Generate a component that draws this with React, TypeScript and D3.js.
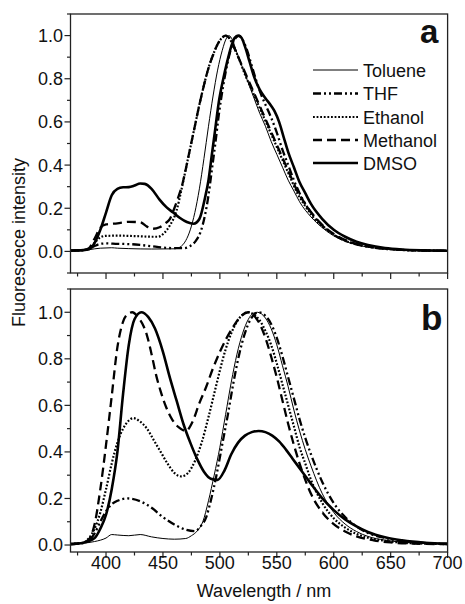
import React from "react";
import * as d3 from "d3";

// ---------- data (wavelength nm, normalized intensity) ----------
const seriesNames = ["Toluene", "THF", "Ethanol", "Methanol", "DMSO"];

// panel a
const tolueneA: [number, number][] = [
  [368.8, 0.004], [380, 0.006], [385, 0.008], [390, 0.012], [395, 0.015], [400, 0.016], [405, 0.017], [410, 0.015],
  [420, 0.013], [440, 0.011], [460, 0.012], [465, 0.02], [470, 0.05], [474, 0.1], [478, 0.18], [482, 0.29],
  [486, 0.43], [490, 0.58], [494, 0.72], [498, 0.84], [502, 0.93], [506, 0.99], [508, 1.0], [511, 0.98],
  [515, 0.92], [520, 0.85], [525, 0.78], [530, 0.71], [535, 0.64], [540, 0.58], [545, 0.51], [550, 0.45],
  [555, 0.39], [560, 0.33], [565, 0.28], [570, 0.23], [580, 0.16], [590, 0.11], [600, 0.072], [610, 0.047],
  [620, 0.031], [630, 0.02], [645, 0.011], [660, 0.006], [680, 0.004], [700, 0.003],
];
const thfA: [number, number][] = [
  [368.8, 0.004], [380, 0.006], [385, 0.012], [390, 0.025], [395, 0.035], [400, 0.037], [410, 0.035], [420, 0.034],
  [430, 0.03], [440, 0.024], [450, 0.018], [460, 0.015], [468, 0.015], [474, 0.025], [479, 0.05], [483, 0.09],
  [487, 0.17], [490, 0.26], [493, 0.38], [496, 0.5], [499, 0.63], [503, 0.77], [507, 0.88], [511, 0.96],
  [514, 0.99], [517, 1.0], [520, 0.98], [524, 0.93], [528, 0.86], [532, 0.79], [536, 0.73], [540, 0.68],
  [545, 0.62], [550, 0.55], [555, 0.47], [560, 0.4], [565, 0.33], [570, 0.27], [575, 0.22], [580, 0.18],
  [590, 0.12], [600, 0.078], [610, 0.05], [620, 0.033], [630, 0.022], [645, 0.012], [660, 0.007], [680, 0.004], [700, 0.003],
];
const ethanolA: [number, number][] = [
  [368.8, 0.004], [380, 0.006], [385, 0.012], [390, 0.04], [395, 0.065], [400, 0.072], [410, 0.073], [420, 0.072],
  [430, 0.07], [440, 0.068], [446, 0.068], [451, 0.085], [456, 0.12], [462, 0.19], [466, 0.28], [470, 0.38],
  [474, 0.48], [478, 0.58], [482, 0.68], [486, 0.77], [490, 0.85], [494, 0.91], [498, 0.96], [502, 0.99],
  [505, 1.0], [508, 0.99], [512, 0.95], [517, 0.89], [522, 0.82], [527, 0.76], [532, 0.7], [537, 0.64],
  [542, 0.58], [547, 0.52], [552, 0.46], [557, 0.4], [562, 0.34], [568, 0.27], [575, 0.21], [585, 0.14],
  [595, 0.095], [605, 0.062], [615, 0.04], [625, 0.027], [640, 0.015], [655, 0.008], [680, 0.004], [700, 0.003],
];
const methanolA: [number, number][] = [
  [368.8, 0.004], [380, 0.006], [385, 0.015], [390, 0.06], [395, 0.11], [400, 0.125], [410, 0.13], [420, 0.137],
  [430, 0.135], [436, 0.115], [441, 0.105], [447, 0.112], [452, 0.13], [456, 0.15], [460, 0.2], [464, 0.26],
  [467, 0.31], [470, 0.38], [474, 0.48], [478, 0.58], [482, 0.68], [486, 0.77], [490, 0.85], [494, 0.91],
  [498, 0.96], [502, 0.99], [505, 1.0], [508, 0.99], [512, 0.95], [517, 0.89], [522, 0.83], [527, 0.77],
  [532, 0.71], [537, 0.65], [542, 0.59], [547, 0.53], [552, 0.47], [557, 0.41], [562, 0.35], [568, 0.28],
  [575, 0.22], [585, 0.15], [595, 0.1], [605, 0.066], [615, 0.043], [625, 0.029], [640, 0.016], [655, 0.009],
  [680, 0.004], [700, 0.003],
];
const dmsoA: [number, number][] = [
  [368.8, 0.004], [380, 0.006], [385, 0.01], [390, 0.04], [395, 0.1], [400, 0.18], [405, 0.26], [410, 0.29],
  [415, 0.297], [420, 0.298], [425, 0.305], [430, 0.315], [434, 0.313], [440, 0.29], [447, 0.24], [453, 0.205],
  [459, 0.18], [465, 0.155], [471, 0.136], [477, 0.128], [482, 0.15], [487, 0.25], [490, 0.33], [493, 0.45],
  [496, 0.57], [499, 0.69], [503, 0.8], [506, 0.87], [510, 0.95], [513, 0.99], [516, 1.0], [519, 0.99],
  [522, 0.95], [526, 0.88], [530, 0.81], [535, 0.75], [540, 0.71], [545, 0.675], [548, 0.65], [552, 0.6],
  [556, 0.53], [560, 0.46], [565, 0.39], [570, 0.32], [575, 0.27], [580, 0.22], [590, 0.15], [600, 0.1],
  [610, 0.068], [620, 0.045], [630, 0.03], [645, 0.016], [660, 0.009], [680, 0.005], [700, 0.003],
];

// panel b
const tolueneB: [number, number][] = [
  [368.8, 0.005], [380, 0.008], [390, 0.015], [400, 0.03], [405, 0.045], [410, 0.043], [420, 0.04], [430, 0.045],
  [440, 0.035], [450, 0.028], [460, 0.025], [470, 0.028], [475, 0.04], [480, 0.06], [485, 0.1], [490, 0.19],
  [495, 0.3], [500, 0.42], [505, 0.56], [510, 0.7], [515, 0.82], [520, 0.91], [525, 0.97], [529, 0.995],
  [533, 1.0], [540, 0.975], [545, 0.93], [550, 0.86], [555, 0.77], [560, 0.68], [565, 0.58], [570, 0.49],
  [575, 0.41], [580, 0.34], [590, 0.22], [600, 0.14], [610, 0.09], [620, 0.058], [630, 0.037], [645, 0.021],
  [660, 0.012], [680, 0.006], [700, 0.004],
];
const thfB: [number, number][] = [
  [368.8, 0.004], [380, 0.008], [385, 0.02], [390, 0.05], [395, 0.1], [400, 0.145], [405, 0.175], [410, 0.19],
  [419, 0.2], [430, 0.188], [440, 0.16], [450, 0.12], [460, 0.088], [470, 0.066], [478, 0.06], [483, 0.08],
  [488, 0.12], [492, 0.19], [497, 0.3], [502, 0.43], [507, 0.56], [512, 0.7], [517, 0.82], [522, 0.91],
  [527, 0.97], [534, 1.0], [540, 0.985], [545, 0.95], [550, 0.89], [555, 0.81], [560, 0.72], [565, 0.63],
  [570, 0.54], [575, 0.46], [580, 0.39], [590, 0.27], [600, 0.18], [610, 0.12], [620, 0.08], [630, 0.052],
  [645, 0.03], [660, 0.017], [680, 0.009], [700, 0.005],
];
const ethanolB: [number, number][] = [
  [368.8, 0.005], [380, 0.01], [385, 0.03], [390, 0.07], [395, 0.14], [400, 0.24], [405, 0.35], [410, 0.44],
  [415, 0.5], [420, 0.535], [424, 0.545], [430, 0.53], [436, 0.5], [442, 0.45], [448, 0.4], [454, 0.35],
  [460, 0.31], [466, 0.295], [472, 0.31], [478, 0.36], [484, 0.44], [490, 0.55], [495, 0.65], [500, 0.75],
  [505, 0.84], [510, 0.91], [515, 0.96], [520, 0.99], [525, 1.0], [530, 0.99], [535, 0.965], [540, 0.92],
  [545, 0.86], [550, 0.78], [555, 0.69], [560, 0.6], [565, 0.51], [570, 0.42], [575, 0.35], [580, 0.28],
  [590, 0.18], [600, 0.115], [610, 0.075], [620, 0.048], [630, 0.031], [645, 0.018], [660, 0.01], [680, 0.006], [700, 0.004],
];
const methanolB: [number, number][] = [
  [368.8, 0.004], [380, 0.01], [385, 0.025], [390, 0.09], [395, 0.24], [400, 0.43], [405, 0.64], [410, 0.85],
  [415, 0.96], [420, 0.995], [423, 1.0], [428, 0.98], [433, 0.94], [436, 0.9], [440, 0.82], [444, 0.73],
  [448, 0.66], [453, 0.59], [458, 0.54], [464, 0.505], [470, 0.49], [476, 0.53], [482, 0.61], [488, 0.68],
  [494, 0.76], [500, 0.83], [506, 0.89], [512, 0.94], [518, 0.98], [525, 1.0], [530, 0.985], [535, 0.95],
  [540, 0.89], [545, 0.81], [550, 0.72], [555, 0.62], [560, 0.52], [565, 0.43], [570, 0.35], [575, 0.28],
  [580, 0.22], [590, 0.14], [600, 0.09], [610, 0.058], [620, 0.037], [635, 0.02], [650, 0.011], [670, 0.006], [700, 0.004],
];
const dmsoB: [number, number][] = [
  [368.8, 0.004], [380, 0.01], [390, 0.03], [395, 0.07], [400, 0.13], [405, 0.24], [410, 0.4], [415, 0.65],
  [420, 0.86], [425, 0.97], [431, 1.0], [437, 0.98], [443, 0.93], [450, 0.83], [456, 0.72], [462, 0.62],
  [468, 0.52], [474, 0.44], [480, 0.37], [486, 0.315], [492, 0.285], [498, 0.28], [504, 0.32], [510, 0.39],
  [516, 0.44], [522, 0.47], [528, 0.485], [534, 0.49], [540, 0.485], [546, 0.47], [552, 0.445], [558, 0.41],
  [564, 0.37], [570, 0.33], [576, 0.29], [582, 0.25], [590, 0.2], [600, 0.15], [610, 0.11], [620, 0.08],
  [630, 0.056], [645, 0.033], [660, 0.02], [680, 0.01], [700, 0.006],
];

const xTicksMajor = [400, 450, 500, 550, 600, 650, 700];
const xTicksMinor = [375, 425, 475, 525, 575, 625, 675];
const yTicksMajor = [0.0, 0.2, 0.4, 0.6, 0.8, 1.0];
const yTicksMinor = [-0.1, 0.1, 0.3, 0.5, 0.7, 0.9, 1.1];

// ---------- styles ----------
const styles: Record<string, { w: number; dash: string | null }> = {
  Toluene: { w: 1.0, dash: null },
  THF: { w: 2.3, dash: "8,3,2,3,2,3" },
  Ethanol: { w: 2.2, dash: "1.8,1.8" },
  Methanol: { w: 2.3, dash: "9,5" },
  DMSO: { w: 2.6, dash: null },
};

const W = 465;
const H = 604;
const X0 = 70.5;
const X1 = 447.6;
const FONT = "Arial, 'Liberation Sans', Helvetica, sans-serif";

const x = d3.scaleLinear().domain([368.8, 700]).range([X0, X1]);
const yA = d3.scaleLinear().domain([-0.1, 1.1]).range([273, 14]);
const yB = d3.scaleLinear().domain([-0.03, 1.1]).range([552, 289]);

const panelA = [tolueneA, thfA, ethanolA, methanolA, dmsoA];
const panelB = [tolueneB, thfB, ethanolB, methanolB, dmsoB];

function Panel({ y, data, id, showXLabels, top, bottom, yMinor }: any) {
  const line = d3
    .line<[number, number]>()
    .x((d) => x(d[0]))
    .y((d) => y(d[1]))
    .curve(d3.curveMonotoneX);
  return (
    <g>
      <defs>
        <clipPath id={id}>
          <rect x={X0} y={top} width={X1 - X0} height={bottom - top} />
        </clipPath>
      </defs>
      <g clipPath={`url(#${id})`}>
        {data.map((s: [number, number][], i: number) => {
          const st = styles[seriesNames[i]];
          return (
            <path
              key={i}
              d={line(s) || ""}
              fill="none"
              stroke="#000"
              strokeWidth={st.w}
              strokeDasharray={st.dash || undefined}
              strokeLinejoin="round"
            />
          );
        })}
      </g>
      <rect x={X0} y={top} width={X1 - X0} height={bottom - top} fill="none" stroke="#222" strokeWidth={1.3} />
      {xTicksMajor.map((t) => (
        <line key={"xM" + t} x1={x(t)} x2={x(t)} y1={bottom} y2={bottom + 6} stroke="#222" strokeWidth={1.2} />
      ))}
      {xTicksMinor.map((t) => (
        <line key={"xm" + t} x1={x(t)} x2={x(t)} y1={bottom} y2={bottom + 3.5} stroke="#222" strokeWidth={1.2} />
      ))}
      {yTicksMajor.map((t) => (
        <line key={"yM" + t} x1={X0 - 6} x2={X0} y1={y(t)} y2={y(t)} stroke="#222" strokeWidth={1.2} />
      ))}
      {yMinor.map((t: number) => (
        <line key={"ym" + t} x1={X0 - 3.5} x2={X0} y1={y(t)} y2={y(t)} stroke="#222" strokeWidth={1.2} />
      ))}
      {yTicksMajor.map((t) => (
        <text key={"yl" + t} x={63} y={y(t)} dy="0.36em" textAnchor="end" fontSize={18} fontFamily={FONT} fill="#111">
          {t.toFixed(1)}
        </text>
      ))}
      {showXLabels &&
        xTicksMajor.map((t) => (
          <text key={"xl" + t} x={x(t)} y={bottom + 17} textAnchor="middle" fontSize={18} fontFamily={FONT} fill="#111">
            {t}
          </text>
        ))}
    </g>
  );
}

export default function App() {
  const legendY = [70, 93.5, 117, 140, 163];
  return (
    <svg width={W} height={H} style={{ position: "absolute", left: 0, top: 0, background: "#fff" }}>
      <rect x={0} y={0} width={W} height={H} fill="#fff" />
      <Panel y={yA} data={panelA} id="clipA" showXLabels={false} top={14} bottom={273} yMinor={yTicksMinor} />
      <Panel y={yB} data={panelB} id="clipB" showXLabels={true} top={289} bottom={552} yMinor={yTicksMinor.filter((t) => t > 0)} />
      {seriesNames.map((n, i) => {
        const st = styles[n];
        return (
          <g key={n}>
            <line x1={313} x2={358} y1={legendY[i]} y2={legendY[i]} stroke="#000" strokeWidth={st.w} strokeDasharray={st.dash || undefined} />
            <text x={363} y={legendY[i] + 6.5} fontSize={18} fontFamily={FONT} fill="#111">
              {n}
            </text>
          </g>
        );
      })}
      <text x={420} y={43} fontSize={33} fontWeight="bold" fontFamily={FONT} fill="#111">a</text>
      <text x={421} y={330} fontSize={35} fontWeight="bold" fontFamily={FONT} fill="#111">b</text>
      <text x={264} y={597} textAnchor="middle" fontSize={18} fontFamily={FONT} fill="#111">Wavelength / nm</text>
      <text transform={`translate(25,242.5) rotate(-90)`} textAnchor="middle" fontSize={18} fontFamily={FONT} fill="#111">
        Fluorescece intensity
      </text>
    </svg>
  );
}
